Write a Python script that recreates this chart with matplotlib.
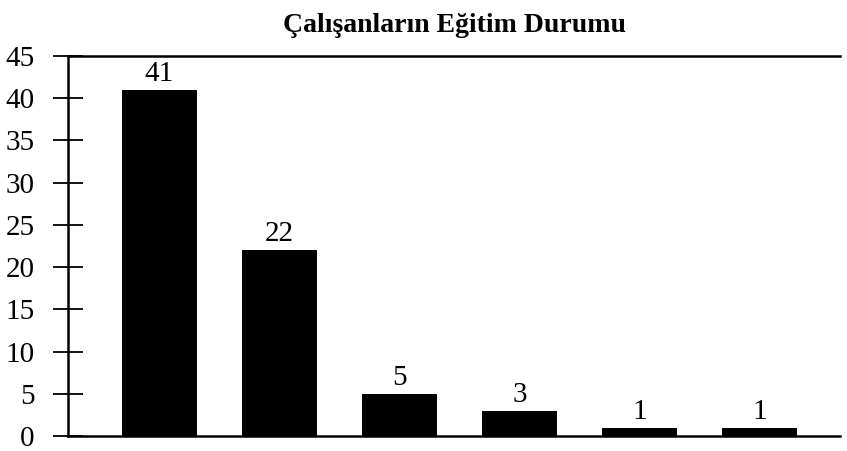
import numpy as np
import matplotlib.pyplot as plt

title = "Çalışanların Eğitim Durumu"
counts = [41, 22, 5, 3, 1, 1]
labels = ["41", "22", "5", "3", "1", "1"]
yticks = [0, 5, 10, 15, 20, 25, 30, 35, 40, 45]

plt.rcParams['font.family'] = ['Liberation Serif', 'DejaVu Serif']

fig = plt.figure(figsize=(8.47, 4.51), dpi=100)
ax = fig.add_axes([68 / 847, 1 - 436 / 451, (840 - 68) / 847, (436 - 56) / 451])

x = np.arange(len(counts))
bars = ax.bar(x, counts, width=0.625, color='black')
for b, lab in zip(bars, labels):
    ax.annotate(lab, (b.get_x() + b.get_width() / 2, b.get_height()),
                xytext=(0, 2), textcoords='offset points',
                ha='center', va='bottom', fontsize=21)

ax.set_xlim(-0.76, 5.67)
ax.set_ylim(0, 45)
ax.set_yticks(yticks)
ax.set_xticks([])
ax.tick_params(axis='y', direction='inout', length=22, width=1.3,
               labelsize=21, pad=13)
ax.spines['right'].set_visible(False)
for s in ['left', 'bottom', 'top']:
    ax.spines[s].set_linewidth(1.8)

fig.text(454 / 847, 1 - 25 / 451, title, ha='center', va='center',
         fontsize=20, fontweight='bold')

fig.savefig('out.png', dpi=100)
